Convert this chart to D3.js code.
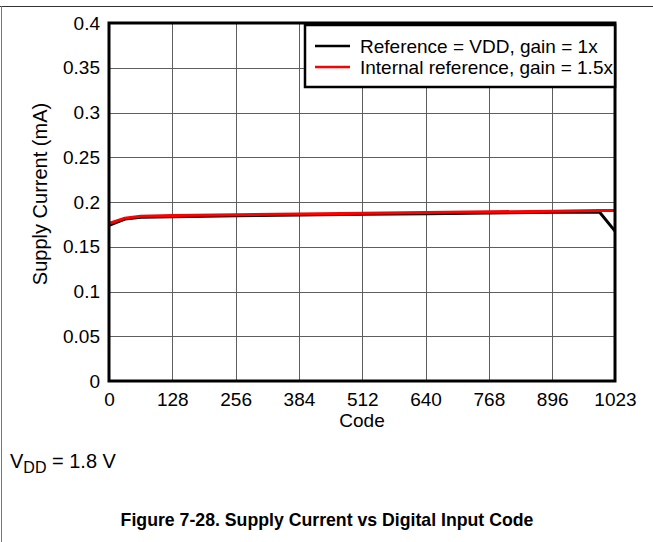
<!DOCTYPE html>
<html>
<head>
<meta charset="utf-8">
<script src="https://cdn.jsdelivr.net/npm/d3@7"></script>
<style>
  html, body { margin: 0; padding: 0; background: #fff; }
  svg { display: block; font-family: "Liberation Sans", Arial, sans-serif; }
</style>
</head>
<body>
<svg id="chart" width="653" height="542"></svg>
<script>
// Supply current vs digital input code
const codes = [0, 32, 64, 128, 256, 384, 512, 640, 768, 896, 960, 992, 1023];
const refVddGain1 = [0.174, 0.181, 0.183, 0.1835, 0.1845, 0.1855, 0.1862, 0.187, 0.1878, 0.1885, 0.1888, 0.1885, 0.1675];
const intRefGain15 = [0.176, 0.182, 0.184, 0.1848, 0.1858, 0.1866, 0.1874, 0.1882, 0.189, 0.1898, 0.1902, 0.1904, 0.1906];
const xTicks = [0, 128, 256, 384, 512, 640, 768, 896, 1023];
const yTicks = [0, 0.05, 0.1, 0.15, 0.2, 0.25, 0.3, 0.35, 0.4];
const seriesNames = ["Reference = VDD, gain = 1x", "Internal reference, gain = 1.5x"];
const seriesColors = ["#000000", "#ff0000"];

const FONT = "'Liberation Sans', Arial, sans-serif";
const svg = d3.select("#chart");
const m = { left: 109, right: 615, top: 23, bottom: 381 };

// page frame lines
svg.append("line").attr("x1", 0).attr("x2", 653).attr("y1", 6.5).attr("y2", 6.5)
  .attr("stroke", "#333").attr("stroke-width", 1);
svg.append("line").attr("x1", 1.5).attr("x2", 1.5).attr("y1", 6).attr("y2", 542)
  .attr("stroke", "#777").attr("stroke-width", 1);

const x = d3.scaleLinear().domain([0, 1023]).range([m.left, m.right]);
const y = d3.scaleLinear().domain([0, 0.4]).range([m.bottom, m.top]);

// grid
const grid = svg.append("g");
grid.selectAll("line.v").data(xTicks).join("line")
  .attr("x1", d => Math.round(x(d)) + 0.5).attr("x2", d => Math.round(x(d)) + 0.5)
  .attr("y1", m.top).attr("y2", m.bottom)
  .attr("stroke", "#5e5e5e").attr("stroke-width", 1);
grid.selectAll("line.h").data(yTicks).join("line")
  .attr("x1", m.left).attr("x2", m.right)
  .attr("y1", d => Math.round(y(d)) + 0.5).attr("y2", d => Math.round(y(d)) + 0.5)
  .attr("stroke", "#5e5e5e").attr("stroke-width", 1);

// axes
const xAxis = d3.axisBottom(x).tickValues(xTicks).tickSize(0).tickPadding(12).tickFormat(d3.format("d"));
const yAxis = d3.axisLeft(y).tickValues(yTicks).tickSize(0).tickPadding(9).tickFormat(d => d === 0 ? "0" : String(+d.toFixed(2)));
const gx = svg.append("g").attr("transform", `translate(0,${m.bottom})`).call(xAxis);
const gy = svg.append("g").attr("transform", `translate(${m.left},0)`).call(yAxis);
[gx, gy].forEach(g => {
  g.attr("font-size", 19).attr("font-family", FONT);
  g.select(".domain").remove();
  g.selectAll("text").attr("fill", "#000");
});

// data lines
const line = d3.line().x((d, i) => x(codes[i])).y(d => y(d));
svg.append("path").datum(refVddGain1).attr("d", line)
  .attr("fill", "none").attr("stroke", seriesColors[0]).attr("stroke-width", 3);
svg.append("path").datum(intRefGain15).attr("d", line)
  .attr("fill", "none").attr("stroke", seriesColors[1]).attr("stroke-width", 3);

// plot frame
svg.append("rect").attr("x", m.left).attr("y", m.top)
  .attr("width", m.right - m.left).attr("height", m.bottom - m.top)
  .attr("fill", "none").attr("stroke", "#000").attr("stroke-width", 3);

// legend
const lg = svg.append("g");
lg.append("rect").attr("x", 305).attr("y", 25).attr("width", 310).attr("height", 62)
  .attr("fill", "#fff").attr("stroke", "#000").attr("stroke-width", 2.5);
seriesNames.forEach((name, i) => {
  const yy = 46 + i * 21;
  lg.append("line").attr("x1", 315).attr("x2", 350).attr("y1", yy).attr("y2", yy)
    .attr("stroke", seriesColors[i]).attr("stroke-width", 2.5);
  lg.append("text").attr("x", 360).attr("y", yy + 7).attr("font-size", 19).text(name);
});

// axis titles
svg.append("text").attr("x", m.left + (m.right - m.left) / 2).attr("y", 427)
  .attr("text-anchor", "middle").attr("font-size", 19).text("Code");
svg.append("text").attr("transform", `translate(47,${(m.top + m.bottom) / 2 - 8}) rotate(-90)`)
  .attr("text-anchor", "middle").attr("font-size", 20).text("Supply Current (mA)");

// supply note
const note = svg.append("text").attr("x", 10).attr("y", 468).attr("font-size", 20);
note.append("tspan").text("V");
note.append("tspan").attr("font-size", 16).attr("dy", 5).text("DD");
note.append("tspan").attr("dy", -5).text(" = 1.8 V");

// caption
svg.append("text").attr("x", 327).attr("y", 526).attr("text-anchor", "middle")
  .attr("font-size", 17.7).attr("font-weight", "bold").text("Figure 7-28. Supply Current vs Digital Input Code");
</script>
</body>
</html>
